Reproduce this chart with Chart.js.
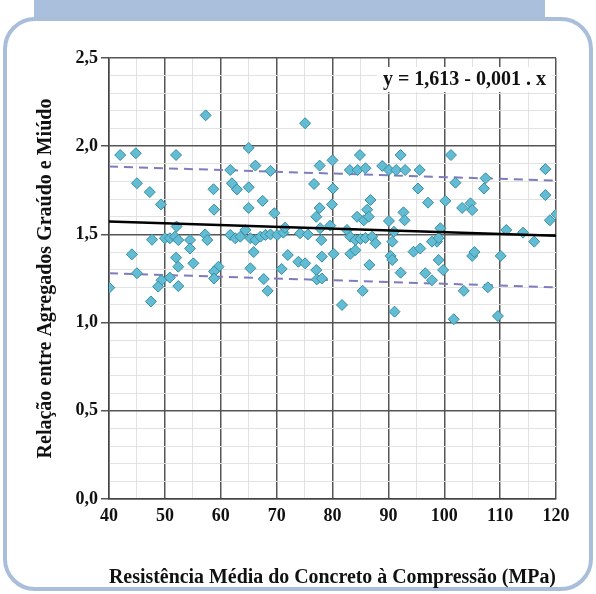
<!DOCTYPE html>
<html>
<head>
<meta charset="utf-8">
<script src="https://cdn.jsdelivr.net/npm/chart.js@4"></script>
<style>
  html, body { margin: 0; padding: 0; background: #ffffff; }
  #wrap { width: 596px; height: 594px; }
</style>
</head>
<body>
<div id="wrap"><canvas id="grafico" width="596" height="594"></canvas></div>
<script>
// Pontos (resistência em MPa, relação graúdo/miúdo)
const resistencia = [
  42.0, 44.8, 45.0, 47.3, 49.3, 52.0, 57.3, 58.7, 58.8, 65.0, 61.7, 66.2, 68.9, 62.0, 62.9, 65.0, 67.5, 65.0, 69.6, 75.1, 77.7, 76.7, 77.7, 77.1,
  52.1, 47.7, 50.0, 50.9, 51.8, 52.4, 54.5, 57.2, 57.6, 61.7, 62.6, 63.5, 64.4, 65.3, 66.2, 67.1, 68.0, 68.9, 70.1, 71.2, 44.1, 54.5, 65.9, 52.0, 52.4, 55.1, 59.6, 58.8, 65.3, 70.9, 45.0, 49.4, 50.9, 67.7,
  40.05, 47.5, 48.8, 52.4, 58.8, 68.4, 72.0, 77.1, 77.2,
  78.1, 78.1, 80.2, 83.2, 84.1, 86.6, 85.4, 81.7, 90.4, 90.7, 92.2, 91.1, 94.5, 95.7, 96.6, 97.8, 98.7, 99.0, 99.8, 101.7, 103.5, 105.0, 105.4, 107.8, 110.1, 109.6, 116.1,
  79.9, 86.8, 86.2, 84.4, 85.6, 86.5, 90.1, 92.7, 92.9, 97.1, 100.2, 103.2, 104.7, 105.0, 71.5, 74.2, 75.6, 77.8, 79.6, 78.0, 82.6, 83.2, 84.1, 85.0, 85.9, 87.1, 87.7, 91.0, 90.7, 97.8, 99.3, 99.0, 73.9, 75.1,
  80.0, 84.9, 83.1, 84.5, 85.9, 88.9, 90.1, 91.4, 92.2, 93.0, 95.6, 101.2, 95.3, 102.0, 107.4, 107.1, 118.1, 118.1, 80.1, 118.9, 120.1, 111.1, 114.1
];
const relacao = [
  1.95, 1.96, 1.79, 1.74, 1.67, 1.95, 2.175, 1.756, 1.64, 1.99, 1.865, 1.89, 1.86, 1.79, 1.755, 1.767, 1.69, 1.65, 1.62, 2.13, 1.89, 1.786, 1.65, 1.60,
  1.545, 1.47, 1.478, 1.478, 1.487, 1.468, 1.468, 1.50, 1.468, 1.497, 1.478, 1.487, 1.525, 1.478, 1.468, 1.487, 1.497, 1.50, 1.497, 1.51, 1.387, 1.42, 1.40, 1.368, 1.317, 1.336, 1.317, 1.29, 1.308, 1.304, 1.28, 1.24, 1.255, 1.247,
  1.198, 1.12, 1.204, 1.207, 1.25, 1.18, 1.383, 1.298, 1.245,
  1.374, 1.25, 1.39, 1.39, 1.41, 1.327, 1.18, 1.10, 1.378, 1.355, 1.283, 1.062, 1.402, 1.42, 1.28, 1.24, 1.459, 1.355, 1.298, 1.019, 1.18, 1.378, 1.40, 1.20, 1.378, 1.037, 1.459,
  1.67, 1.695, 1.64, 1.60, 1.58, 1.60, 1.576, 1.625, 1.58, 1.68, 1.69, 1.65, 1.676, 1.638, 1.538, 1.506, 1.50, 1.535, 1.55, 1.468, 1.525, 1.487, 1.468, 1.474, 1.48, 1.487, 1.45, 1.515, 1.459, 1.459, 1.535, 1.48, 1.345, 1.336,
  1.92, 1.95, 1.865, 1.865, 1.875, 1.888, 1.865, 1.865, 1.95, 1.865, 1.865, 1.95, 1.76, 1.793, 1.818, 1.76, 1.87, 1.723, 1.76, 1.58, 1.615, 1.525, 1.51
];

// Reta de regressão e limites
const retaX = [40, 120];
const retaY = [1.573, 1.493];
const limiteSupY = [1.885, 1.805];
const limiteInfY = [1.28, 1.20];

const equacao = 'y = 1,613 - 0,001 . x';
const tituloX = 'Resistência Média do Concreto à Compressão (MPa)';
const tituloY = 'Relação entre Agregados Graúdo e Miúdo';

const fonte = "'Liberation Serif', 'Times New Roman', serif";

const pontos = resistencia.map((x, i) => ({ x: x, y: relacao[i] }));
const linha = ys => retaX.map((x, i) => ({ x: x, y: ys[i] }));

// Moldura azul e caixa da equação
const moldura = {
  id: 'moldura',
  beforeDraw(chart) {
    const ctx = chart.ctx;
    ctx.save();
    ctx.fillStyle = '#ffffff';
    ctx.fillRect(0, 0, chart.width, chart.height);
    ctx.fillStyle = '#a9bfdc';
    ctx.fillRect(34, 0, 511, 17);
    ctx.strokeStyle = '#a9bedb';
    ctx.lineWidth = 4;
    ctx.beginPath();
    ctx.roundRect(5, 19, 586, 570, 30);
    ctx.stroke();
    ctx.restore();
  },
  afterDraw(chart) {
    const ctx = chart.ctx;
    ctx.save();
    ctx.font = 'bold 20px ' + fonte;
    const w = ctx.measureText(equacao).width;
    const xr = chart.chartArea.right - 10;
    ctx.fillStyle = '#ffffff';
    ctx.fillRect(xr - w - 6, 67, w + 12, 25);
    ctx.fillStyle = '#111111';
    ctx.textAlign = 'right';
    ctx.textBaseline = 'middle';
    ctx.fillText(equacao, xr, 80);
    ctx.restore();
  }
};

const ehMaior = v => Math.round(v * 10) % 5 === 0;

new Chart(document.getElementById('grafico'), {
  type: 'scatter',
  data: {
    datasets: [
      {
        data: linha(retaY), showLine: true, borderColor: '#000000', borderWidth: 2.5,
        pointRadius: 0, order: 1
      },
      {
        data: pontos, pointStyle: 'rectRot', pointRadius: 5.5,
        backgroundColor: '#62bcd3', borderColor: '#3a8ea2', borderWidth: 1, order: 2
      },
      {
        data: linha(limiteSupY), showLine: true, borderColor: '#7e7cbc', borderWidth: 2,
        borderDash: [9, 6], pointRadius: 0, order: 3
      },
      {
        data: linha(limiteInfY), showLine: true, borderColor: '#7e7cbc', borderWidth: 2,
        borderDash: [9, 6], pointRadius: 0, order: 3
      }
    ]
  },
  options: {
    responsive: false,
    animation: false,
    layout: { padding: { top: 58, right: 40, left: 0, bottom: 0 } },
    plugins: { legend: { display: false }, tooltip: { enabled: false } },
    scales: {
      x: {
        type: 'linear', min: 40, max: 120,
        afterFit: s => { s.height = 95; },
        ticks: {
          stepSize: 5, padding: 7, color: '#111111', maxRotation: 0, autoSkip: false,
          font: { family: fonte, size: 18, weight: 'bold' },
          callback: v => (v % 10 === 0 ? String(v) : '')
        },
        grid: {
          drawTicks: false,
          color: c => (c.tick && c.tick.value % 10 === 0 ? '#555555' : '#e2e2e2'),
          lineWidth: c => (c.tick && c.tick.value % 10 === 0 ? 1.5 : 1)
        },
        border: { color: '#444444', width: 1.5 },
        title: {
          display: true, text: tituloX, color: '#111111',
          font: { family: fonte, size: 20, weight: 'bold' },
          padding: { top: 0, bottom: 4 }
        }
      },
      y: {
        type: 'linear', min: 0, max: 2.5,
        afterFit: s => { s.width = 109; },
        ticks: {
          stepSize: 0.1, padding: 3, color: '#111111', autoSkip: false,
          font: { family: fonte, size: 18, weight: 'bold' },
          callback: v => (ehMaior(v) ? v.toFixed(1).replace('.', ',') : '')
        },
        grid: {
          tickLength: 8,
          color: c => (c.tick && ehMaior(c.tick.value) ? '#555555' : '#e2e2e2'),
          tickColor: c => (c.tick && ehMaior(c.tick.value) ? '#555555' : 'rgba(0,0,0,0)'),
          lineWidth: c => (c.tick && ehMaior(c.tick.value) ? 1.5 : 1)
        },
        border: { color: '#444444', width: 1.5 },
        title: {
          display: true, text: tituloY, color: '#111111',
          font: { family: fonte, size: 20, weight: 'bold' },
          padding: { top: 34, bottom: 0 }
        }
      }
    }
  },
  plugins: [moldura]
});
</script>
</body>
</html>
